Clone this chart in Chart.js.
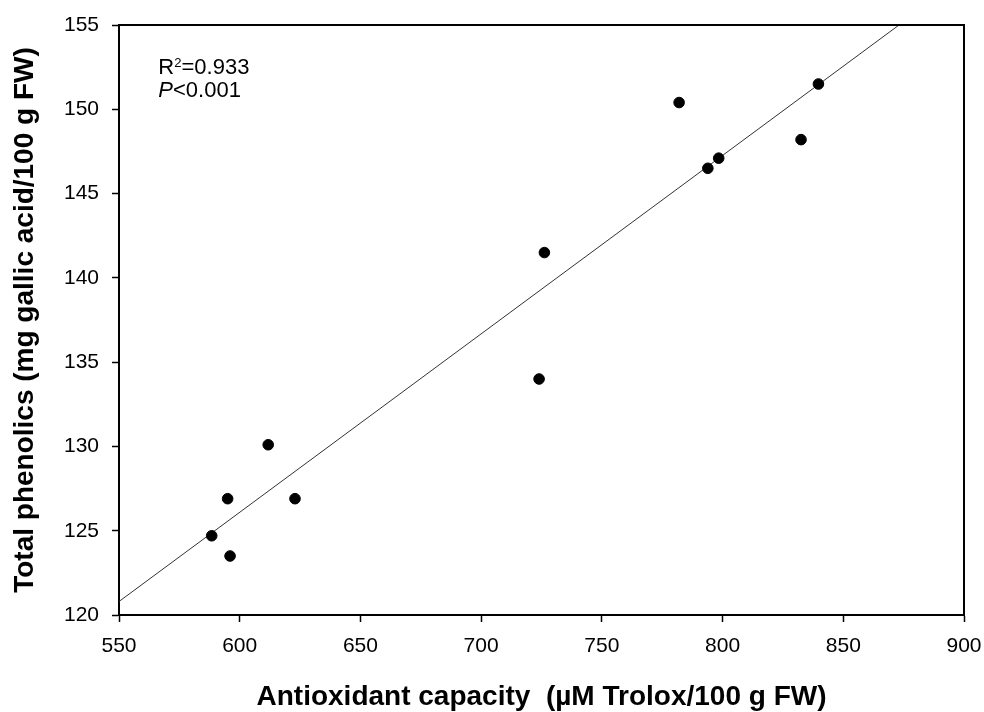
<!DOCTYPE html>
<html>
<head>
<meta charset="utf-8">
<script src="https://cdn.jsdelivr.net/npm/chart.js@4/dist/chart.umd.min.js"></script>
<style>
html,body{margin:0;padding:0;background:#fff;}
#wrap{width:984px;height:712px;position:relative;}
</style>
</head>
<body>
<div id="wrap"><canvas id="c" width="984" height="712"></canvas></div>
<script>
// Data
const antioxidant = [588.4, 595.0, 596.0, 611.8, 622.9, 724.0, 726.2, 782.0, 793.9, 798.4, 832.5, 839.7];
const phenolics   = [124.7, 126.9, 123.5, 130.1, 126.9, 134.0, 141.5, 150.4, 146.5, 147.1, 148.2, 151.5];
const fitX = [550, 873.1];
const fitY = [120.8, 155];
const xTicks = [550, 600, 650, 700, 750, 800, 850, 900];
const yTicks = [120, 125, 130, 135, 140, 145, 150, 155];
const annotR2 = "0.933";
const annotP = "<0.001";
const xTitle = "Antioxidant capacity  (\u00b5M Trolox/100 g FW)";
const yTitle = "Total phenolics (mg gallic acid/100 g FW)";

const FONT = "'Liberation Sans', Arial, sans-serif";

const framePlugin = {
  id: 'frame',
  afterDatasetsDraw(chart) {
    const {ctx, chartArea: a} = chart;
    ctx.save();
    ctx.strokeStyle = '#000';
    ctx.lineWidth = 2;
    ctx.beginPath();
    ctx.moveTo(a.left, a.top);
    ctx.lineTo(a.right, a.top);
    ctx.lineTo(a.right, a.bottom);
    ctx.stroke();
    // annotation
    const x0 = chart.scales.x.getPixelForValue(566.3);
    const y1 = chart.scales.y.getPixelForValue(152.1);
    const y2 = y1 + 23;
    ctx.fillStyle = '#000';
    ctx.textBaseline = 'alphabetic';
    ctx.textAlign = 'left';
    ctx.font = "22px " + FONT;
    ctx.fillText('R', x0, y1);
    let w = ctx.measureText('R').width;
    ctx.font = "13px " + FONT;
    ctx.fillText('2', x0 + w, y1 - 7);
    const w2 = ctx.measureText('2').width;
    ctx.font = "22px " + FONT;
    ctx.fillText('=' + annotR2, x0 + w + w2, y1);
    ctx.font = "italic 22px " + FONT;
    ctx.fillText('P', x0, y2);
    const pw = ctx.measureText('P').width;
    ctx.font = "22px " + FONT;
    ctx.fillText(annotP, x0 + pw, y2);
    ctx.restore();
  }
};

new Chart(document.getElementById('c'), {
  type: 'scatter',
  data: {
    datasets: [
      {
        label: 'fit',
        type: 'line',
        data: fitX.map((x, i) => ({x, y: fitY[i]})),
        borderColor: '#333',
        borderWidth: 1,
        pointRadius: 0,
        fill: false,
        order: 2
      },
      {
        label: 'samples',
        data: antioxidant.map((x, i) => ({x, y: phenolics[i]})),
        backgroundColor: '#000',
        borderColor: '#000',
        pointRadius: 5.3,
        pointHoverRadius: 5.3,
        order: 1
      }
    ]
  },
  options: {
    responsive: false,
    animation: false,
    layout: {padding: {left: 0, top: 25, right: 20, bottom: 0}},
    plugins: {legend: {display: false}, tooltip: {enabled: false}},
    scales: {
      x: {
        type: 'linear',
        min: 550, max: 900,
        afterBuildTicks: s => { s.ticks = xTicks.map(v => ({value: v})); },
        afterFit: s => { s.height = 97; s.paddingLeft = 0; s.paddingRight = 0; },
        grid: {drawOnChartArea: false, color: '#000', tickLength: 7, tickWidth: 1.5},
        border: {color: '#000', width: 2},
        ticks: {color: '#000', font: {family: FONT, size: 21}, padding: 12, maxRotation: 0},
        title: {display: true, text: xTitle, color: '#000', font: {family: FONT, size: 28, weight: 'bold', lineHeight: 1}, padding: {top: 0, bottom: 1}}
      },
      y: {
        type: 'linear',
        min: 120, max: 155,
        afterBuildTicks: s => { s.ticks = yTicks.map(v => ({value: v})); },
        afterFit: s => { s.width = 119; s.paddingTop = 0; s.paddingBottom = 0; },
        grid: {drawOnChartArea: false, color: '#000', tickLength: 7, tickWidth: 1.5},
        border: {color: '#000', width: 2},
        ticks: {color: '#000', font: {family: FONT, size: 21}, padding: 13},
        title: {display: true, text: yTitle, color: '#000', font: {family: FONT, size: 28, weight: 'bold', lineHeight: 1}, padding: {top: 11, bottom: 0}}
      }
    }
  },
  plugins: [framePlugin]
});
</script>
</body>
</html>
